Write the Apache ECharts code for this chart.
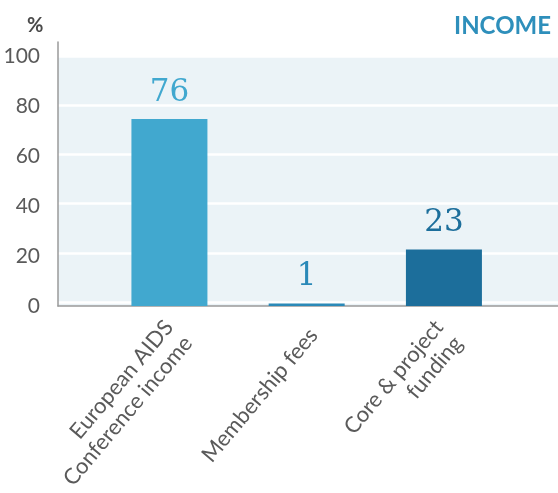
<!DOCTYPE html>
<html>
<head>
<meta charset="utf-8">
<script src="https://cdn.jsdelivr.net/npm/echarts@6/dist/echarts.min.js"></script>
<style>
html,body{margin:0;padding:0;background:#fff;}
#c{width:558px;height:493px;}
</style>
</head>
<body>
<div id="c"></div>
<script>
var categories = ['European AIDS\nConference income', 'Membership fees', 'Core & project\nfunding'];
var values = [76, 1, 23];
var yTicks = [0, 20, 40, 60, 80, 100];
var barColors = ['#41A8CF', '#2A89B8', '#1C6E9B'];

var chart = echarts.init(document.getElementById('c'), null, {renderer: 'canvas'});
var yMin = yTicks[0], yMax = yTicks[yTicks.length - 1], yStep = yTicks[1] - yTicks[0];
var option = {
  animation: false,
  title: [
    {text: '%', left: 22, top: 11, textStyle: {fontFamily: 'Lato', fontSize: 20, fontWeight: 'bold', color: '#4a4a4a'}},
    {text: 'INCOME', right: 2, top: 9, textStyle: {fontFamily: 'Lato', fontSize: 24, fontWeight: 'bold', color: '#2E8FBB'}}
  ],
  grid: [
    {left: 58, right: 0, top: 56, bottom: 187, show: true, backgroundColor: '#EBF3F7', borderWidth: 0},
    {left: 58, width: 10, top: 42, bottom: 187},
    {left: 100.8, width: 411.75, top: 60, bottom: 187},
    {left: 111, width: 405, top: 56, bottom: 187},
    {left: 58, right: 0, top: 56, bottom: 191}
  ],
  xAxis: [
    {gridIndex: 0, type: 'value', min: 0, max: 1, axisLine: {show: true, onZero: false, lineStyle: {color: '#9a9a9a', width: 1.5}}, axisTick: {show: false}, axisLabel: {show: false}, splitLine: {show: false}},
    {gridIndex: 1, type: 'value', show: false},
    {gridIndex: 2, type: 'category', data: categories, axisLine: {show: false}, axisTick: {show: false}, axisLabel: {show: false}},
    {gridIndex: 3, type: 'category', data: categories, axisLine: {show: false}, axisTick: {show: false},
      axisLabel: {show: true, interval: 0, rotate: 50, margin: 27, fontFamily: 'Lato', fontSize: 22, lineHeight: 25, color: '#5a5a5a'}},
    {gridIndex: 4, type: 'value', show: false}
  ],
  yAxis: [
    {gridIndex: 0, type: 'value', min: yMin, max: yMax, interval: yStep,
      axisLine: {show: false}, axisTick: {show: false},
      axisLabel: {margin: 18, fontFamily: 'Lato', fontSize: 21, color: '#5a5a5a'},
      splitLine: {show: false}},
    {gridIndex: 1, type: 'value', min: 0, max: 1, axisLine: {show: true, lineStyle: {color: '#9a9a9a', width: 1.5}}, axisTick: {show: false}, axisLabel: {show: false}, splitLine: {show: false}},
    {gridIndex: 2, type: 'value', min: yMin, max: yMax, show: false},
    {gridIndex: 3, type: 'value', min: 0, max: 1, show: false},
    {gridIndex: 4, type: 'value', min: yMin, max: yMax, interval: yStep,
      axisLine: {show: false}, axisTick: {show: false}, axisLabel: {show: false},
      splitLine: {show: true, lineStyle: {color: '#ffffff', width: 2.5}}}
  ],
  series: [{
    type: 'bar',
    xAxisIndex: 2,
    yAxisIndex: 2,
    barWidth: 76,
    z: 5,
    data: values.map(function (v, i) {
      return {value: v, itemStyle: {color: barColors[i]}, label: {color: barColors[i]}};
    }),
    label: {show: true, position: 'top', distance: 11, fontFamily: 'DejaVu Serif', fontSize: 31}
  }]
};
chart.setOption(option);
</script>
</body>
</html>
